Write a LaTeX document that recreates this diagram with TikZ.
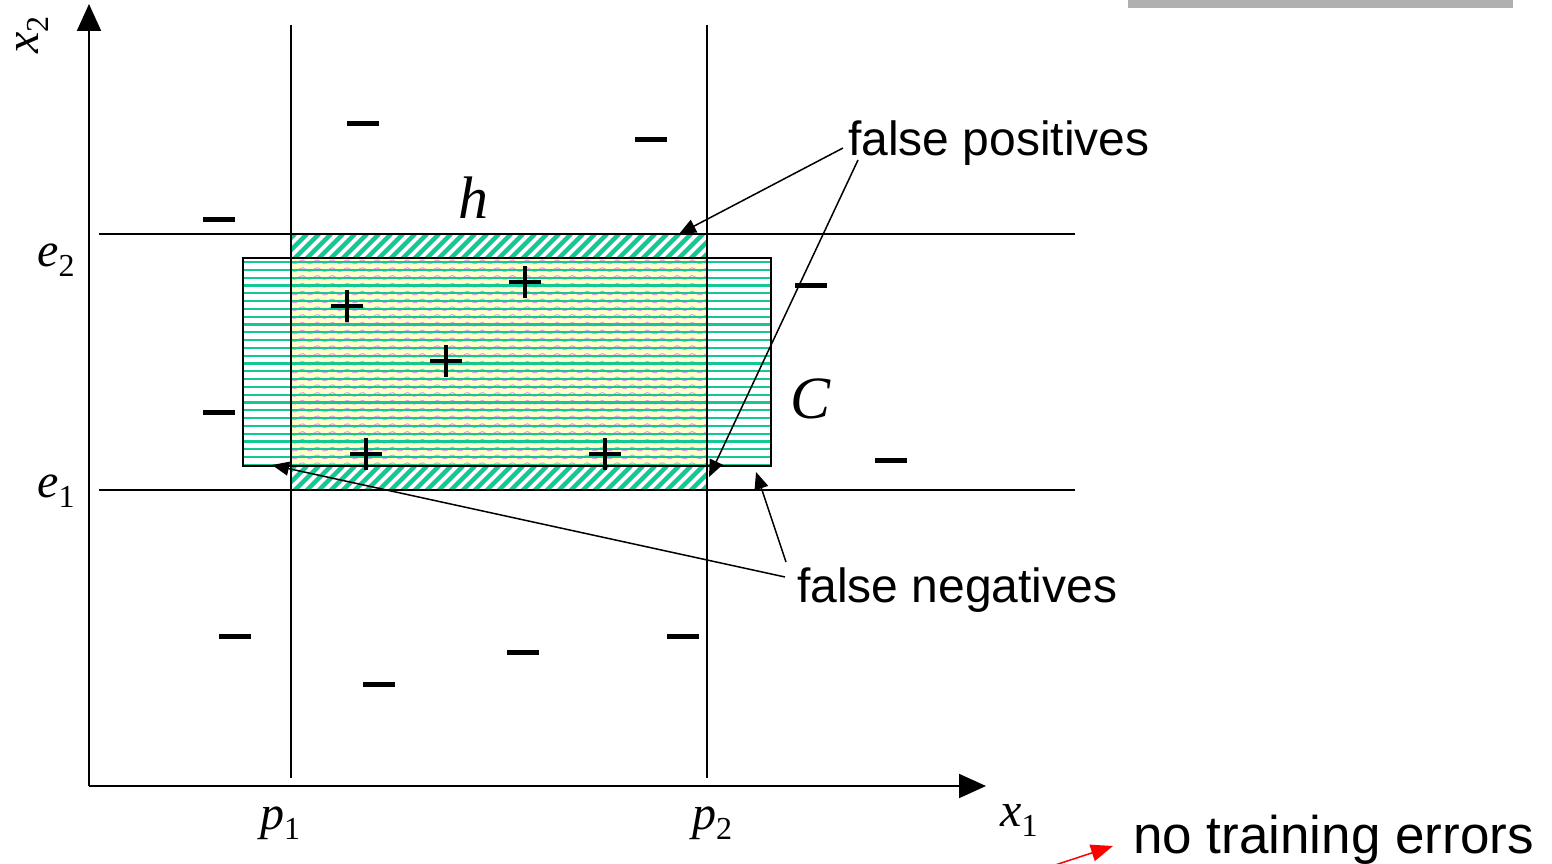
\documentclass[tikz,border=0pt]{standalone}
\usepackage{fontspec}
\setmainfont{Liberation Serif}
\newfontfamily\arialf{Liberation Sans}
\usetikzlibrary{arrows.meta}
\definecolor{hgreen}{RGB}{20,200,150}
\definecolor{hyellow}{RGB}{255,255,204}
\definecolor{hpink}{RGB}{240,150,230}
\definecolor{bargrey}{RGB}{176,176,176}
\tikzset{
  axis/.style={line width=2pt,-{Triangle[length=27pt,width=24pt]}},
  guide/.style={line width=1.6pt},
  box/.style={line width=2pt},
  pointer/.style={line width=1.5pt,-{Triangle[length=17pt,width=14pt]}},
  hatchline/.style={hgreen,line width=4.5pt},
  hline/.style={hgreen,line width=2.2pt},
  minus/.style={line width=5pt},
  plussign/.style={line width=3.5pt},
  lbl/.style={inner sep=0pt,font=\fontsize{48}{48}\selectfont},
  txt/.style={inner sep=0pt,font=\arialf\fontsize{48}{48}\selectfont},
}
\newcommand{\mysub}[1]{\raisebox{-0.22em}{\upshape\fontsize{32}{32}\selectfont #1}}
\begin{document}
\begin{tikzpicture}[x=1pt,y=-1pt]
\useasboundingbox (0,0) rectangle (1552,864);
% grey bar
\fill[bargrey] (1128,0) rectangle (1513,8);
% C rectangle green horizontal lines
\begin{scope}
\clip (243,258) rectangle (771,466);
\fill[white] (243,258) rectangle (771,466);
\fill[hyellow] (291,258) rectangle (707,466);
\begin{scope}
\clip (291,258) rectangle (707,466);
\foreach \yy in {258,265.8,...,470} {
  \draw[hpink,line width=1pt] plot[domain=0:416,samples=140] ({291+\x},{\yy+3.9+2*sin(\x*24)});
}
\end{scope}
\foreach \yy in {262,269.8,...,468} {
  \draw[hline] (243,\yy) -- (771,\yy);
}
\end{scope}
% hatched strips
\begin{scope}
\clip (291,234) rectangle (707,258);
\fill[white] (291,234) rectangle (707,258);
\foreach \k in {255,267,...,720} { \draw[hatchline] (\k,262) -- ++(28,-28); }
\end{scope}
\begin{scope}
\clip (291,466) rectangle (707,490);
\fill[white] (291,466) rectangle (707,490);
\foreach \k in {255,267,...,720} { \draw[hatchline] (\k,494) -- ++(28,-28); }
\end{scope}
% outlines
\draw[box] (243,258) rectangle (771,466);
\draw[box] (291,234) rectangle (707,490);
% guide lines
\draw[guide] (291,25) -- (291,778);
\draw[guide] (707,25) -- (707,778);
\draw[guide] (99,234) -- (1075,234);
\draw[guide] (99,490) -- (1075,490);
% axes
\coordinate (O) at (89,786);
\coordinate (ytip) at (89,4);
\coordinate (xtip) at (986,786);
\draw[axis] (O) -- (ytip);
\draw[axis] (O) -- (xtip);
% minus signs
\foreach \mx/\my in {363/124,651/140,219/219,811/285,219/412,891/460,235/636,523/652,683/636,379/684} {
  \draw[minus] (\mx-16,\my) -- (\mx+16,\my);
}
% plus signs
\foreach \px/\py in {347/306,525/282,446/361,366/454,605/454} {
  \draw[plussign] (\px-16,\py) -- (\px+16,\py);
  \draw[plussign] (\px,\py-16) -- (\px,\py+16);
}
% labels
\node[lbl,font=\fontsize{60}{60}\selectfont\itshape] (h) at (473,198) {h};
\node[lbl,font=\fontsize{60}{60}\selectfont\itshape] (C) at (810,399) {C};
\node[lbl,anchor=base west] (e2) at (37,266) {\itshape e\mysub{2}};
\node[lbl,anchor=base west] (e1) at (37,497) {\itshape e\mysub{1}};
\node[lbl,anchor=base west] (p1) at (260,829) {\itshape p\mysub{1}};
\node[lbl,anchor=base west] (p2) at (692,829) {\itshape p\mysub{2}};
\node[lbl,anchor=base west] (x1) at (1000,826) {\itshape x\mysub{1}};
\node[lbl,anchor=base west,rotate=90] (x2) at (38,54) {\itshape x\mysub{2}};
% text labels
\node[txt,anchor=base west] (fp) at (848,155) {false positives};
\node[txt,anchor=base west] (fn) at (797,602) {false negatives};
\node[txt,anchor=base west,font=\arialf\fontsize{53}{53}\selectfont] (nte) at (1133,853) {no training errors};
% pointers
\coordinate (fpA) at (843,148);
\coordinate (fpB) at (858,160);
\coordinate (fpT1) at (679,234);
\coordinate (fpT2) at (709,477);
\draw[pointer] (fpA) -- (fpT1);
\draw[pointer] (fpB) -- (fpT2);
\coordinate (fnA) at (785,577);
\coordinate (fnB) at (786,562);
\coordinate (fnT1) at (272,465);
\coordinate (fnT2) at (756,472);
\draw[pointer] (fnA) -- (fnT1);
\draw[pointer] (fnB) -- (fnT2);
% red arrow
\coordinate (rs) at (1052,866);
\coordinate (rt) at (1113,846);
\draw[red,line width=1.5pt,-{Triangle[length=22pt,width=17pt]}] (rs) -- (rt);
\end{tikzpicture}
\end{document}
